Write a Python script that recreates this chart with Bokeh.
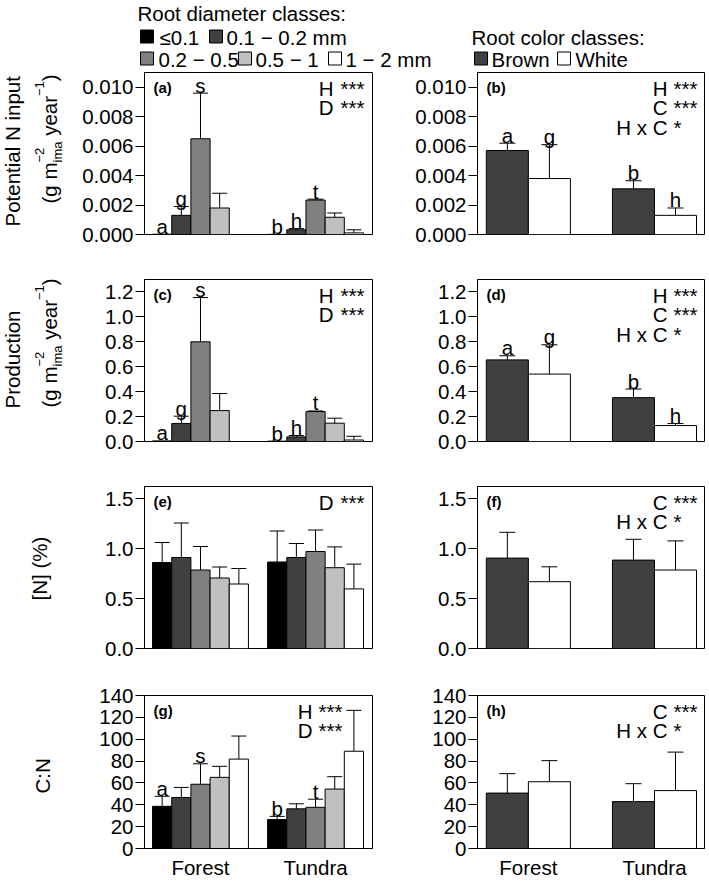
import math
from bokeh.plotting import figure
from bokeh.layouts import column, row
from bokeh.models import Range1d, FixedTicker, PrintfTickFormatter
from bokeh.core.properties import value
from bokeh.embed import file_html
from bokeh.resources import INLINE

nan = float("nan")
FONT = "Liberation Sans"
FS = "20.5px"

# ---------------- data ----------------
habitats = ["Forest", "Tundra"]
diam_classes = ["≤0.1", "0.1 − 0.2 mm", "0.2 − 0.5", "0.5 − 1", "1 − 2 mm"]
diam_colors = ["#000000", "#404040", "#808080", "#c0c0c0", "#ffffff"]
color_classes = ["Brown", "White"]
color_colors = ["#404040", "#ffffff"]

# (a) Potential N input by diameter class: mean and upper error-bar end (mean + SE)
a_forest = [0.00002, 0.0013, 0.0065, 0.0018, nan]
a_forest_hi = [nan, 0.0019, 0.0096, 0.0028, nan]
a_tundra = [0.00001, 0.00032, 0.00234, 0.00117, 0.00011]
a_tundra_hi = [nan, 0.0004, 0.0024, 0.00146, 0.00032]
a_forest_letters = ["a", "g", "s", "", ""]
a_tundra_letters = ["b", "h", "t", "", ""]

# (b) Potential N input by colour class (Forest, Tundra)
b_brown = [0.0057, 0.0031]
b_brown_hi = [0.0062, 0.00365]
b_white = [0.0038, 0.0013]
b_white_hi = [0.0061, 0.0018]
b_brown_letters = ["a", "b"]
b_white_letters = ["g", "h"]

# (c) Production by diameter class
c_forest = [0.005, 0.145, 0.80, 0.248, nan]
c_forest_hi = [nan, 0.203, 1.155, 0.385, nan]
c_tundra = [0.003, 0.037, 0.24, 0.147, 0.012]
c_tundra_hi = [nan, 0.048, 0.245, 0.187, 0.042]
c_forest_letters = ["a", "g", "s", "", ""]
c_tundra_letters = ["b", "h", "t", "", ""]

# (d) Production by colour class
d_brown = [0.655, 0.352]
d_brown_hi = [0.688, 0.421]
d_white = [0.541, 0.128]
d_white_hi = [0.776, 0.144]
d_brown_letters = ["a", "b"]
d_white_letters = ["g", "h"]

# (e) [N] (%) by diameter class
e_forest = [0.86, 0.91, 0.785, 0.705, 0.645]
e_forest_hi = [1.06, 1.255, 1.02, 0.815, 0.80]
e_tundra = [0.865, 0.91, 0.97, 0.808, 0.596]
e_tundra_hi = [1.175, 1.05, 1.185, 1.016, 0.844]
e_forest_letters = ["", "", "", "", ""]
e_tundra_letters = ["", "", "", "", ""]

# (f) [N] (%) by colour class
f_brown = [0.904, 0.884]
f_brown_hi = [1.162, 1.092]
f_white = [0.668, 0.785]
f_white_hi = [0.817, 1.076]
f_brown_letters = ["", ""]
f_white_letters = ["", ""]

# (g) C:N by diameter class
g_forest = [38.6, 46.7, 58.8, 65.1, 81.8]
g_forest_hi = [47.8, 55.9, 77.5, 75.2, 102.9]
g_tundra = [26.5, 36.3, 37.7, 54.4, 89.0]
g_tundra_hi = [29.4, 40.9, 45.1, 65.7, 126.4]
g_forest_letters = ["a", "", "s", "", ""]
g_tundra_letters = ["b", "", "t", "", ""]

# (h) C:N by colour class
h_brown = [50.7, 42.9]
h_brown_hi = [68.5, 59.3]
h_white = [61.1, 53.0]
h_white_hi = [80.4, 88.2]
h_brown_letters = ["", ""]
h_white_letters = ["", ""]

stats_a = [("H", "***"), ("D", "***")]
stats_b = [("H", "***"), ("C", "***"), ("H x C", "*")]
stats_c = [("H", "***"), ("D", "***")]
stats_d = [("H", "***"), ("C", "***"), ("H x C", "*")]
stats_e = [("D", "***")]
stats_f = [("C", "***"), ("H x C", "*")]
stats_g = [("H", "***"), ("D", "***")]
stats_h = [("C", "***"), ("H x C", "*")]

y_titles = ["Potential N input", "Production", "[N] (%)", "C:N"]

# ---------------- layout ----------------
W_TITLE, W_LEFT, W_RIGHT = 70, 337, 300
LEFT_B = (74, 35)
RIGHT_B = (70, 3)
FRAME_H = 162
ROW_B = [(1, 35), (10, 36), (9, 34), (13, 24)]
LEG_H = 71
TOTAL_H = LEG_H + sum(bt + FRAME_H + bb for bt, bb in ROW_B)

BLACK = "black"


def base_fig(width, height, xr, yr, bl, br, bt, bb):
    p = figure(width=width, height=height, x_range=xr, y_range=yr,
               output_backend="svg", toolbar_location=None,
               min_border_left=bl, min_border_right=br,
               min_border_top=bt, min_border_bottom=bb)
    p.outline_line_color = BLACK
    p.outline_line_width = 1
    p.outline_line_alpha = 1
    p.grid.visible = False
    p.background_fill_color = "white"
    p.border_fill_color = "white"
    return p


def style_axes(p, yticks, fmt, xlabels=None):
    ya = p.yaxis[0]
    ya.ticker = FixedTicker(ticks=yticks)
    ya.formatter = PrintfTickFormatter(format=fmt)
    ya.major_tick_out = 9
    ya.major_tick_in = 0
    ya.minor_tick_line_color = None
    ya.axis_line_color = BLACK
    ya.major_tick_line_color = BLACK
    ya.major_label_text_font = FONT
    ya.major_label_text_font_size = FS
    ya.major_label_text_color = BLACK
    ya.major_label_standoff = 2
    xa = p.xaxis[0]
    if xlabels is not None:
        ticks, labels = xlabels
        xa.ticker = FixedTicker(ticks=ticks)
        xa.major_label_overrides = {t: l for t, l in zip(ticks, labels)}
        xa.major_tick_line_color = None
        xa.minor_tick_line_color = None
        xa.axis_line_color = BLACK
        xa.major_label_text_font = FONT
        xa.major_label_text_font_size = FS
        xa.major_label_text_color = BLACK
        xa.major_label_standoff = 1
    else:
        xa.visible = False


def draw_bars(p, xs, tops, his, cols, lets, cap):
    p.vbar(x=xs, top=tops, bottom=0, width=1.0, fill_color=cols,
           line_color=BLACK, line_width=1)
    ex, ey0, ey1 = [], [], []
    for x, t, h in zip(xs, tops, his):
        if not math.isnan(t) and not math.isnan(h):
            ex.append(x); ey0.append(t); ey1.append(h)
    p.segment(x0=ex, y0=ey0, x1=ex, y1=ey1, line_color=BLACK, line_width=1)
    p.scatter(x=ex, y=ey1, marker="dash", size=cap, line_color=BLACK, line_width=1)
    lx, ly, lt = [], [], []
    for x, t, h, L in zip(xs, tops, his, lets):
        if L:
            lx.append(x)
            ly.append(h if not math.isnan(h) else t)
            lt.append(L)
    p.text(x=lx, y=ly, text=lt, text_font=value(FONT), text_font_size=FS,
           text_align="center", text_baseline="middle", y_offset=-8,
           text_color=BLACK)


def annotate(p, tag, stats, dx_label, dx_star):
    xr, yr = p.x_range, p.y_range
    p.text(x=[xr.start], y=[yr.end], text=[tag], text_font=value(FONT),
           text_font_size="15px", text_font_style="bold", text_align="left",
           text_baseline="middle", x_offset=9, y_offset=14.5, text_color=BLACK)
    for k, (lab, star) in enumerate(stats):
        yo = 15.5 + 19.5 * k
        p.text(x=[xr.end], y=[yr.end], text=[lab], text_font=value(FONT),
               text_font_size=FS, text_align="right", text_baseline="middle",
               x_offset=-dx_label, y_offset=yo, text_color=BLACK)
        p.text(x=[xr.end], y=[yr.end], text=[star], text_font=value(FONT),
               text_font_size=FS, text_align="left", text_baseline="middle",
               x_offset=-dx_star, y_offset=yo, text_color=BLACK)


def diam_panel(ri, forest, forest_hi, tundra, tundra_hi, lf, lt, yend, yticks, fmt,
               tag, stats, dxl=39, dxs=32, bottom=False):
    bt, bb = ROW_B[ri]
    p = base_fig(W_LEFT, bt + FRAME_H + bb, Range1d(-0.42, 11.47), Range1d(0, yend),
                 LEFT_B[0], LEFT_B[1], bt, bb)
    xs, tops, his, cols, lets = [], [], [], [], []
    for g, (m, h, L) in enumerate([(forest, forest_hi, lf), (tundra, tundra_hi, lt)]):
        for i in range(len(diam_classes)):
            xs.append(g * 6 + i + 0.5)
            tops.append(m[i]); his.append(h[i]); cols.append(diam_colors[i]); lets.append(L[i])
    draw_bars(p, xs, tops, his, cols, lets, 15)
    style_axes(p, yticks, fmt, ([2.5, 8.5], habitats) if bottom else None)
    annotate(p, tag, stats, dxl, dxs)
    return p


def color_panel(ri, brown, brown_hi, white, white_hi, lb, lw, yend, yticks, fmt,
                tag, stats, bottom=False):
    bt, bb = ROW_B[ri]
    p = base_fig(W_RIGHT, bt + FRAME_H + bb, Range1d(-0.21, 5.19), Range1d(0, yend),
                 RIGHT_B[0], RIGHT_B[1], bt, bb)
    xs, tops, his, cols, lets = [], [], [], [], []
    for g in range(2):
        for j, (m, h, L) in enumerate([(brown, brown_hi, lb), (white, white_hi, lw)]):
            xs.append(g * 3 + j + 0.5)
            tops.append(m[g]); his.append(h[g]); cols.append(color_colors[j]); lets.append(L[g])
    draw_bars(p, xs, tops, his, cols, lets, 16)
    style_axes(p, yticks, fmt, ([1.0, 4.0], habitats) if bottom else None)
    annotate(p, tag, stats, 37, 31)
    return p


# Arial-compatible advance widths (per 1000 em) for the rotated unit text
ADV = {"(": 333, ")": 333, " ": 278, "g": 556, "m": 833, "i": 222, "a": 556,
       "y": 500, "e": 556, "r": 333, "−": 584, "1": 556, "2": 556}


def tw(s, size):
    return sum(ADV[c] for c in s) * size / 1000.0


def blank_fig(width, height):
    p = figure(width=width, height=height, x_range=Range1d(0, width), y_range=Range1d(0, height),
               x_axis_type=None, y_axis_type=None, min_border=0,
               output_backend="svg", toolbar_location=None)
    p.outline_line_color = None
    p.grid.visible = False
    p.background_fill_color = "white"
    p.border_fill_color = "white"
    return p


def title_fig():
    """One tall column (page pixel coordinates, y counted from the top) for the y-axis titles."""
    p = blank_fig(W_TITLE, TOTAL_H)

    def rtext(x, ytop, s, size):
        p.text(x=[x], y=[TOTAL_H - ytop], text=[s], angle=math.pi / 2, text_font=value(FONT),
               text_font_size=f"{size}px", text_align="left", text_baseline="middle",
               text_color=BLACK)

    def units(ystart):
        xb = 49
        slots = [[("(g m", 20.5, 0)], [("ima", 13, 7.5), ("−2", 13, -10.5)], [(" ", 20.5, None)],
                 [("year", 20.5, 0)], [("−1", 13, -10.5)], [(")", 20.5, 0)]]
        y = ystart
        for sl in slots:
            for s, z, dx in sl:
                if dx is not None:
                    rtext(xb + dx, y, s, z)
            y -= max(tw(s, z) for s, z, _ in sl)

    rtext(12, 226, y_titles[0], 20.5)
    units(203)
    rtext(12, 408, y_titles[1], 20.5)
    units(407)
    rtext(39, 600, y_titles[2], 20.5)
    rtext(42, 793, y_titles[3], 20.5)
    return p


def legend_fig():
    p = blank_fig(W_LEFT + W_RIGHT, LEG_H)
    ox = W_TITLE

    def sq(xl, ytop, col):
        yc = LEG_H - ytop
        p.quad(left=[xl - ox], right=[xl - ox + 13], bottom=[yc - 6.5], top=[yc + 6.5],
               fill_color=col, line_color=BLACK, line_width=1)

    def tx(x, ytop, s):
        p.text(x=[x - ox], y=[LEG_H - ytop], text=[s], text_font=value(FONT), text_font_size=FS,
               text_align="left", text_baseline="middle", text_color=BLACK)

    tx(137, 13, "Root diameter classes:")
    sq(140, 36, diam_colors[0]); tx(159, 37, diam_classes[0])
    sq(209, 36, diam_colors[1]); tx(226, 37, diam_classes[1])
    sq(140, 58, diam_colors[2]); tx(158, 59, diam_classes[2])
    sq(238, 58, diam_colors[3]); tx(255, 59, diam_classes[3])
    sq(328, 58, diam_colors[4]); tx(345, 59, diam_classes[4])
    tx(471, 37, "Root color classes:")
    sq(474, 58, color_colors[0]); tx(491, 59, color_classes[0])
    sq(557, 58, color_colors[1]); tx(575, 59, color_classes[1])
    return p


pa = diam_panel(0, a_forest, a_forest_hi, a_tundra, a_tundra_hi, a_forest_letters, a_tundra_letters,
                0.011, [0, 0.002, 0.004, 0.006, 0.008, 0.010], "%.3f", "(a)", stats_a)
pb = color_panel(0, b_brown, b_brown_hi, b_white, b_white_hi, b_brown_letters, b_white_letters,
                 0.011, [0, 0.002, 0.004, 0.006, 0.008, 0.010], "%.3f", "(b)", stats_b)
pc = diam_panel(1, c_forest, c_forest_hi, c_tundra, c_tundra_hi, c_forest_letters, c_tundra_letters,
                1.3, [0, 0.2, 0.4, 0.6, 0.8, 1.0, 1.2], "%.1f", "(c)", stats_c)
pd = color_panel(1, d_brown, d_brown_hi, d_white, d_white_hi, d_brown_letters, d_white_letters,
                 1.3, [0, 0.2, 0.4, 0.6, 0.8, 1.0, 1.2], "%.1f", "(d)", stats_d)
pe = diam_panel(2, e_forest, e_forest_hi, e_tundra, e_tundra_hi, e_forest_letters, e_tundra_letters,
                1.62, [0, 0.5, 1.0, 1.5], "%.1f", "(e)", stats_e)
pf = color_panel(2, f_brown, f_brown_hi, f_white, f_white_hi, f_brown_letters, f_white_letters,
                 1.62, [0, 0.5, 1.0, 1.5], "%.1f", "(f)", stats_f)
pg = diam_panel(3, g_forest, g_forest_hi, g_tundra, g_tundra_hi, g_forest_letters, g_tundra_letters,
                140, [0, 20, 40, 60, 80, 100, 120, 140], "%d", "(g)", stats_g, dxl=60, dxs=54,
                bottom=True)
ph = color_panel(3, h_brown, h_brown_hi, h_white, h_white_hi, h_brown_letters, h_white_letters,
                 140, [0, 20, 40, 60, 80, 100, 120, 140], "%d", "(h)", stats_h, bottom=True)

layout = row(title_fig(),
             column(legend_fig(), row(pa, pb), row(pc, pd), row(pe, pf), row(pg, ph)))

open("out.html", "w").write(file_html(layout, INLINE))
